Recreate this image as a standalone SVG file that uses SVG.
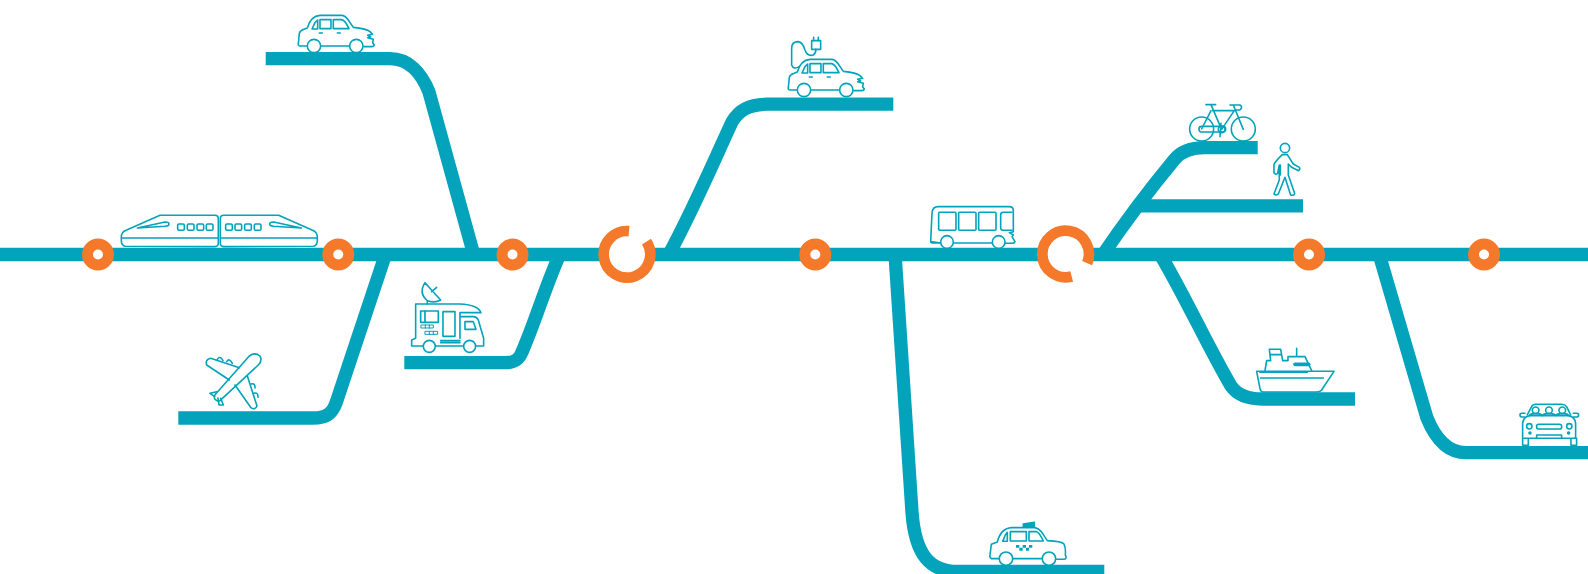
<svg xmlns="http://www.w3.org/2000/svg" width="1588" height="574" viewBox="0 0 1588 574">
<style>
.ln{fill:none;stroke:#02a3bb;stroke-width:13.3}
.ic,.ic *{fill:none;stroke:#02a3bb;stroke-width:4.8;stroke-linejoin:round;stroke-linecap:round}
.ic .w{fill:#fff}
.ic .t{stroke-width:7}
.ic .f{fill:#02a3bb}
.dot{fill:#fff;stroke:#f5792b;stroke-width:11}
.arc{fill:none;stroke:#f5792b;stroke-width:10.7}
</style>
<defs>
<g id="carBase">
<path d="M622 138H601Q594 138 595 132L598 100Q600 92 612 88L622 84Q632 48 660 46H725Q735 46 745 60L760 82Q800 86 810 95L818 103L803 106L812 110L803 113L820 118L818 128L823 135Q822 140 815 140H792M749 138H662"/>
<circle class="w" cx="642" cy="138" r="20"/><circle class="w" cx="769" cy="138" r="20"/>
<path d="M636 87L645 68L653 60V87ZM660 59H693V86H660ZM700 59H725Q735 60 747 86H700Z"/>
<path d="M658 99H667M712 99H721"/>
</g>
<g id="trainCar">
<path d="M75 739Q64 735 64 722V708Q66 695 80 690L180 646H345Q355 646 355 656V730Q355 740 345 740Z"/>
<path class="t" d="M66 714H353" style="stroke-width:5"/>
<path d="M112 684L195 666Q207 666 207 672Q207 678 195 679Z"/>
<rect x="233" y="672" width="20" height="19" rx="4"/><rect x="262" y="672" width="20" height="19" rx="4"/><rect x="291" y="672" width="20" height="19" rx="4"/><rect x="319" y="672" width="20" height="19" rx="4"/>
</g>
</defs>
<g id="connectors">
<path class="ln" d="M0 254.500H1588"/>
<path class="ln" d="M265.700 58.700H390C408 58.700 421 72 429 92L472.500 250"/>
<path class="ln" d="M178.300 418H313C326 418 332 414 336 403L385 256"/>
<path class="ln" d="M404.300 362.700H505C514 362.700 519 360 522 352C535 322 545 288 559 256"/>
<path class="ln" d="M893.300 104.200H768C749 104.200 739 110 732 122C712 165 693 210 668 256"/>
<path class="ln" d="M1257.700 147.700H1205C1192 147.700 1181 151 1174 160C1150 189 1125 222 1102 256"/>
<path class="ln" d="M1303 205.800H1140"/>
<path class="ln" d="M895 254L912 512C915 555 930 571.500 958 571.500H1104.300"/>
<path class="ln" d="M1160 254C1186 298 1207 345 1231 386C1238 396 1249 399 1262 399H1355"/>
<path class="ln" d="M1379 254L1427 418C1436 440 1448 452.700 1466 452.700H1588"/>
</g>
<g id="stop-1"><circle class="dot" cx="98" cy="254.500" r="10.500"/></g>
<g id="stop-2"><circle class="dot" cx="338.300" cy="254.500" r="10.500"/></g>
<g id="stop-3"><circle class="dot" cx="512.500" cy="254.500" r="10.500"/></g>
<g id="stop-4"><circle class="dot" cx="815.300" cy="254.500" r="10.500"/></g>
<g id="stop-5"><circle class="dot" cx="1309" cy="254.500" r="10.500"/></g>
<g id="stop-6"><circle class="dot" cx="1484" cy="254.500" r="10.500"/></g>
<g id="hub-1"><circle cx="627" cy="254.300" r="23" fill="#fff"/><path class="arc" d="M629.030 231.090A23.300 23.300 0 1 0 646.500 241.600"/></g>
<g id="hub-2"><circle cx="1065.700" cy="254" r="23" fill="#fff"/><path class="arc" d="M1087.100 263.100A23.300 23.300 0 1 0 1071.700 276.500"/></g>
<g id="car" class="ic" transform="translate(100,0) scale(.3333)"><use href="#carBase"/></g>
<g id="train" class="ic" transform="translate(100,0) scale(.3333)"><use href="#trainCar"/><use href="#trainCar" transform="matrix(-1 0 0 1 716 0)"/></g>
<g id="plane" class="ic" transform="translate(170,270) scale(.3333)">
<path d="M238 258Q255 245 270 258Q278 272 265 285L150 392Q142 396 135 388Q130 380 137 372Z"/>
<path d="M208 293L122 265Q105 268 110 285L178 330M195 345L242 412Q255 422 261 408L232 318"/>
<path d="M142 268Q150 255 159 272M170 275Q178 262 187 280M243 342Q256 338 255 354M250 370Q265 365 264 382"/>
<path d="M140 365L120 370L134 380M144 384L147 405L160 405L152 385"/>
</g>
<g id="camper" class="ic" transform="translate(170,270) scale(.3333)">
<path d="M737 102H870Q925 105 933 128H870V205M737 102V205L725 210V228H760M797 228H880M918 228H941V205L925 150Q920 140 910 140H870"/>
<rect class="t" x="752" y="123" width="53" height="34" style="stroke-width:5"/><path class="t" d="M765 123V157" style="stroke-width:5"/>
<rect x="819" y="125" width="36" height="74"/>
<path d="M885 155H910L918 178H885Z"/>
<path d="M754 165H790V174H754ZM766 165V174M778 165V174M766 184H803V193H766ZM778 184V193M790 184V193" style="stroke-width:3"/>
<path d="M812 212H870M812 218H870"/>
<circle class="w" cx="778" cy="229" r="18"/><circle class="w" cx="899" cy="229" r="18"/>
<path d="M765 38Q745 70 772 92Q795 100 812 90ZM785 65L800 52M772 92V102"/>
</g>
<g id="electric-car" class="ic" transform="translate(590,44) scale(.3333)"><use href="#carBase"/></g>
<g id="charger" class="ic" transform="translate(580,20) scale(.3333)">
<path d="M658 140Q640 150 635 135V85Q635 65 655 65Q668 67 675 90Q682 110 700 105Q708 100 708 88"/>
<rect x="695" y="62" width="27" height="26"/><path d="M701 52V62M715 52V62"/>
</g>
<g id="bus" class="ic" transform="translate(900,90) scale(.3333)">
<path d="M92 455L96 370Q97 350 115 350H328Q340 350 340 362V425L328 428L340 435L336 440L345 455Q344 460 335 460H316M277 459H160M122 459H96Q92 459 92 455Z"/>
<rect x="116" y="367" width="52" height="54" rx="3"/><rect x="176" y="367" width="52" height="54" rx="3"/><rect x="236" y="367" width="52" height="54" rx="3"/><path d="M336 367H310Q302 367 302 375V413Q302 421 310 421H336"/>
<circle class="w" cx="141" cy="456" r="19"/><circle class="w" cx="296" cy="456" r="19"/>
</g>
<g id="bike" class="ic" transform="translate(900,90) scale(.3333)">
<circle cx="905" cy="117" r="36"/><circle cx="1030" cy="117" r="36"/>
<path d="M918 44H947M933 44L965 118M938 62H1000M990 45H1020Q1030 50 1020 60H1008M1000 45L1030 118M1003 62L965 118M933 62L905 117"/>
<rect x="897" y="109" width="80" height="17" rx="8"/><circle cx="965" cy="118" r="10"/><path d="M963 100L960 140"/>
</g>
<g id="walker" class="ic" transform="translate(900,90) scale(.3333)">
<circle cx="1155" cy="174" r="14"/>
<path d="M1147 194H1162L1180 222L1198 232Q1202 238 1196 242L1175 232L1165 222V255L1184 310Q1184 318 1172 315L1155 262L1135 312Q1128 318 1122 312L1138 270V225L1133 250Q1126 256 1122 248V224Q1124 216 1147 194Z"/>
<path d="M1141 225V255"/>
</g>
<g id="taxi" class="ic" transform="translate(880,420) scale(.3333)">
<path d="M358 416H335Q328 414 330 406L334 373L352 366Q362 325 395 323H465Q476 325 484 335L502 362Q545 364 552 372Q558 385 556 405Q562 416 552 418H527M487 416H398"/>
<circle class="w" cx="378" cy="416" r="20"/><circle class="w" cx="507" cy="416" r="20"/>
<path d="M368 364L376 345L382 337V364ZM391 335H439V363H391ZM447 335H470Q478 337 490 363H447Z"/>
<path class="f" d="M430 312L463 307V322H430Z"/>
<path class="f" style="stroke:none" d="M408 375H418V383H408ZM428 375H438V383H428ZM447 375H457V383H447ZM418 383H428V392H418ZM438 383H447V392H438Z"/>
</g>
<g id="ship" class="ic" transform="translate(1150,250) scale(.3333)">
<path d="M320 364H552L515 420Q510 426 500 426H340Q332 426 330 416Z"/>
<path d="M345 362L350 332H362L358 298H392L398 332H414V320H440V295M440 320H465L485 362M362 314H395"/>
<path d="M330 366H472" style="stroke-width:6"/><path d="M332 384H520" style="stroke-width:5"/>
<path d="M435 343H476" style="stroke-width:11"/>
</g>
<g id="suv" class="ic" transform="translate(1150,250) scale(.3333)">
<path d="M1132 495L1145 470Q1148 463 1158 463H1235Q1245 463 1250 470L1262 495"/>
<circle cx="1157" cy="481" r="10"/><circle cx="1197" cy="481" r="10"/><circle cx="1237" cy="481" r="10"/>
<path d="M1138 497Q1142 490 1157 491Q1172 490 1177 497Q1182 490 1197 491Q1212 490 1217 497Q1222 490 1237 491Q1252 490 1258 497"/>
<path d="M1118 565V520Q1120 500 1140 497H1255Q1275 500 1277 520V565ZM1118 565V586H1135V565M1263 565V586H1280V565"/>
<path d="M1125 490H1116Q1110 490 1110 495Q1110 501 1116 501H1125M1270 490H1280Q1286 490 1286 495Q1286 501 1280 501H1270"/>
<circle cx="1138" cy="529" r="8"/><circle cx="1258" cy="529" r="8"/>
<circle class="f" cx="1140" cy="549" r="3"/><circle class="f" cx="1256" cy="549" r="3"/>
<rect x="1160" y="523" width="75" height="14" rx="6"/><path d="M1160 565V555H1235V565"/>
</g>
</svg>
